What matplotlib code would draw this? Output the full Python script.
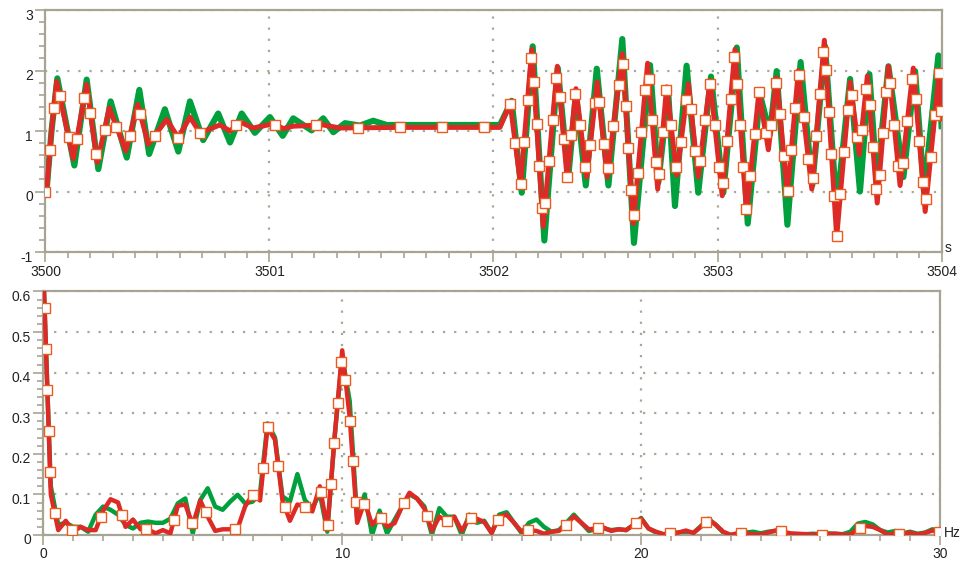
import matplotlib

matplotlib.use("Agg")
import matplotlib.pyplot as plt
import numpy as np
from matplotlib.ticker import MultipleLocator
from matplotlib.transforms import ScaledTranslation

plt.rcParams["font.family"] = ["Liberation Sans", "DejaVu Sans"]

# --- time trace (s): turning points ---
t_green = [
    3500.000, 3500.007, 3500.027, 3500.053, 3500.129, 3500.184, 3500.236, 3500.291,
    3500.363, 3500.419, 3500.463, 3500.533, 3500.593, 3500.645, 3500.704, 3500.771,
    3500.824, 3500.876, 3500.935, 3501.002, 3501.059, 3501.106, 3501.188, 3501.240,
    3501.285, 3501.337, 3501.404, 3501.463, 3501.523, 3502.029,
    3502.081, 3502.126, 3502.175, 3502.227, 3502.287, 3502.334, 3502.368, 3502.412,
    3502.461, 3502.513, 3502.575, 3502.627, 3502.699, 3502.736, 3502.780, 3502.810,
    3502.862, 3502.914, 3502.971, 3503.026, 3503.086, 3503.135, 3503.190, 3503.234,
    3503.264, 3503.312, 3503.371, 3503.423, 3503.480, 3503.532, 3503.592, 3503.636,
    3503.678, 3503.711, 3503.763, 3503.830, 3503.882, 3503.922, 3503.986, 3504.000,
]
v_green = [
    0.00, 0.10, 1.00, 1.87, 0.43, 1.85, 0.37, 1.49,
    0.56, 1.68, 0.62, 1.36, 0.66, 1.49, 0.85, 1.29,
    0.81, 1.29, 0.97, 1.23, 0.92, 1.21, 1.01, 1.21,
    0.98, 1.13, 1.09, 1.17, 1.10, 1.10,
    1.50, -0.02, 2.40, -0.81, 2.04, 0.24, 1.62, 0.10,
    2.03, 0.10, 2.52, -0.85, 2.09, 0.15, 1.65, -0.24,
    2.08, -0.02, 1.90, -0.02, 2.38, -0.53, 1.60, 0.95,
    1.99, -0.55, 2.14, 0.10, 2.40, -0.27, 1.86, 0.00,
    1.94, 0.18, 2.07, 0.24, 1.99, 0.00, 2.25, 1.08,
]
t_red = [
    3500.000, 3500.007, 3500.027, 3500.050, 3500.124, 3500.184, 3500.231, 3500.285,
    3500.359, 3500.412, 3500.459, 3500.541, 3500.593, 3500.645, 3500.690, 3500.779,
    3500.824, 3500.868, 3500.928, 3501.017, 3501.062, 3501.106, 3501.240, 3501.315,
    3501.583, 3502.029,
    3502.074, 3502.121, 3502.171, 3502.222, 3502.285, 3502.329, 3502.368, 3502.416,
    3502.463, 3502.508, 3502.575, 3502.624, 3502.688, 3502.733, 3502.773, 3502.818,
    3502.870, 3502.914, 3502.967, 3503.021, 3503.078, 3503.130, 3503.185, 3503.227,
    3503.264, 3503.312, 3503.361, 3503.421, 3503.477, 3503.532, 3503.592, 3503.633,
    3503.669, 3503.713, 3503.763, 3503.815, 3503.874, 3503.927, 3503.990, 3504.000,
]
v_red = [
    0.00, 0.10, 1.00, 1.82, 0.54, 1.77, 0.48, 1.38,
    0.67, 1.44, 0.78, 1.19, 0.89, 1.23, 0.97, 1.10,
    1.00, 1.15, 1.05, 1.12, 1.04, 1.08, 1.10, 1.05,
    1.06, 1.06,
    1.47, 0.12, 2.35, -0.58, 2.07, 0.21, 1.70, 0.24,
    1.81, 0.24, 2.28, -0.53, 2.12, 0.04, 1.73, 0.27,
    1.78, 0.24, 1.83, -0.07, 2.35, -0.36, 1.65, 0.69,
    1.88, -0.05, 2.00, 0.04, 2.50, -0.75, 1.81, 0.61,
    1.91, -0.19, 2.07, 0.10, 2.04, -0.33, 1.99, 1.20,
]

# --- spectrum, 0.25 Hz bins from 0 to 30 Hz (one row per Hz) ---
freq = np.arange(121) * 0.25
amp_green = [
    0.64, 0.12, 0.025, 0.03,
    0.02, 0.02, 0.008, 0.05,
    0.07, 0.062, 0.05, 0.025,
    0.016, 0.03, 0.033, 0.03,
    0.03, 0.04, 0.078, 0.09,
    0.004, 0.086, 0.115, 0.07,
    0.062, 0.082, 0.099, 0.078,
    0.082, 0.103, 0.275, 0.24,
    0.095, 0.082, 0.15, 0.086,
    0.066, 0.103, 0.008, 0.245,
    0.44, 0.33, 0.04, 0.10,
    0.0, 0.06, 0.004, 0.037,
    0.07, 0.10, 0.09, 0.07,
    0.0, 0.066, 0.045, 0.045,
    0.0, 0.05, 0.03, 0.035,
    0.005, 0.05, 0.056, 0.03,
    0.005, 0.03, 0.038, 0.02,
    0.008, 0.012, 0.03, 0.05,
    0.03, 0.01, 0.014, 0.016,
    0.012, 0.014, 0.012, 0.025,
    0.042, 0.016, 0.006, 0.001,
    0.004, 0.006, 0.008, 0.005,
    0.022, 0.04, 0.025, 0.006,
    0.0, 0.003, 0.006, 0.008,
    0.004, 0.008, 0.01, 0.006,
    0.002, 0.001, 0.002, 0.003,
    0.002, 0.004, 0.003, 0.002,
    0.008, 0.028, 0.032, 0.026,
    0.012, 0.006, 0.01, 0.004,
    0.008, 0.003, 0.006, 0.014,
    0.008,
]
amp_red = [
    0.66, 0.10, 0.012, 0.035,
    0.008, 0.02, 0.012, 0.012,
    0.06, 0.088, 0.08, 0.02,
    0.038, 0.014, 0.014, 0.004,
    0.012, 0.004, 0.072, 0.075,
    0.025, 0.085, 0.045, 0.01,
    0.014, 0.014, 0.016, 0.07,
    0.10, 0.085, 0.265, 0.235,
    0.085, 0.035, 0.075, 0.07,
    0.058, 0.12, 0.015, 0.245,
    0.455, 0.29, 0.03, 0.082,
    0.025, 0.047, 0.02, 0.029,
    0.07, 0.104, 0.09, 0.065,
    0.01, 0.045, 0.035, 0.045,
    0.01, 0.042, 0.04, 0.032,
    0.005, 0.045, 0.05, 0.03,
    0.008, 0.012, 0.01, 0.003,
    0.008, 0.01, 0.025, 0.046,
    0.03, 0.014, 0.016, 0.018,
    0.01, 0.014, 0.012, 0.025,
    0.04, 0.016, 0.008, 0.002,
    0.004, 0.006, 0.011, 0.005,
    0.02, 0.038, 0.025, 0.008,
    0.0, 0.005, 0.004, 0.002,
    0.001, 0.006, 0.011, 0.008,
    0.004, 0.003, 0.002, 0.001,
    0.001, 0.002, 0.003, 0.001,
    0.001, 0.015, 0.022, 0.02,
    0.012, 0.001, 0.004, 0.002,
    0.006, 0.001, 0.005, 0.011,
    0.006,
]

GREEN = "#00A03C"
RED = "#DE2A26"
MARK_EDGE = "#EE5A1E"
FRAME = "#A8A494"
GRID = "#A8A898"


def style_axes(ax):
    for sp in ax.spines.values():
        sp.set_color(FRAME)
        sp.set_linewidth(1.6)
    ax.tick_params(which="major", direction="out", length=7, width=1.2,
                   color=FRAME, labelsize=10, labelcolor="#222222", pad=2)
    ax.tick_params(which="minor", direction="out", length=4, width=1.2, color=FRAME)
    ax.grid(True, which="major", ls=(0, (1, 4)), lw=1.6, color=GRID)
    ax.set_axisbelow(True)
    # y labels sit a little below their ticks in the original
    shift = ScaledTranslation(0, -4 / 100, ax.figure.dpi_scale_trans)
    for tick in ax.yaxis.get_major_ticks():
        tick.label1.set_transform(tick.label1.get_transform() + shift)


def markers_along(ax, x, y, step_px):
    """Place markers at equal on-screen distances along the drawn line,
    the way the source program spaces its symbols."""
    pts = ax.transData.transform(np.column_stack([x, y]))
    seg = np.hypot(np.diff(pts[:, 0]), np.diff(pts[:, 1]))
    s = np.concatenate([[0.0], np.cumsum(seg)])
    at = np.arange(0.0, s[-1], step_px)
    disp = np.column_stack([np.interp(at, s, pts[:, 0]), np.interp(at, s, pts[:, 1])])
    data = ax.transData.inverted().transform(disp)
    ax.plot(data[:, 0], data[:, 1], ls="none", marker="s", markersize=6.5,
            markerfacecolor="white", markeredgecolor=MARK_EDGE,
            markeredgewidth=1.0, zorder=4)


fig = plt.figure(figsize=(9.63, 5.69), dpi=100)
ax1 = fig.add_axes([0.0472, 0.5571, 0.9305, 0.4253])
ax2 = fig.add_axes([0.0450, 0.0598, 0.9311, 0.4279])

# upper panel: time trace
ax1.set_xlim(3500, 3504)
ax1.set_ylim(-1, 3)
ax1.plot(t_green, v_green, color=GREEN, lw=4.4, solid_joinstyle="round", zorder=2)
ax1.plot(t_red, v_red, color=RED, lw=3.6, solid_joinstyle="round", zorder=3)
markers_along(ax1, t_red, v_red, 42)
ax1.set_xticks(range(3500, 3505))
ax1.set_xticklabels([str(v) for v in range(3500, 3505)])
ax1.set_yticks(range(-1, 4))
ax1.set_yticklabels(["-1", "0", "1", "2", "3"])
ax1.xaxis.set_minor_locator(MultipleLocator(0.1))
ax1.yaxis.set_minor_locator(MultipleLocator(0.2))
style_axes(ax1)
ax1.text(1.003, 0.0, "s", transform=ax1.transAxes, ha="left", va="baseline",
         fontsize=10, color="#222222")

# lower panel: spectrum
ax2.set_xlim(0, 30)
ax2.set_ylim(0, 0.6)
ax2.plot(freq, amp_green, color=GREEN, lw=3.2, solid_joinstyle="round", zorder=2)
ax2.plot(freq, amp_red, color=RED, lw=3.2, solid_joinstyle="round", zorder=3)
markers_along(ax2, freq, amp_red, 41)
ax2.set_xticks([0, 10, 20, 30])
ax2.set_xticklabels(["0", "10", "20", "30"])
ax2.set_yticks([0, 0.1, 0.2, 0.3, 0.4, 0.5, 0.6])
ax2.set_yticklabels(["0", "0.1", "0.2", "0.3", "0.4", "0.5", "0.6"])
ax2.xaxis.set_minor_locator(MultipleLocator(1))
ax2.yaxis.set_minor_locator(MultipleLocator(0.02))
style_axes(ax2)
ax2.text(1.004, -0.008, "Hz", transform=ax2.transAxes, ha="left", va="baseline",
         fontsize=10, color="#222222")

fig.savefig("out.png", dpi=100)
plt.close(fig)
